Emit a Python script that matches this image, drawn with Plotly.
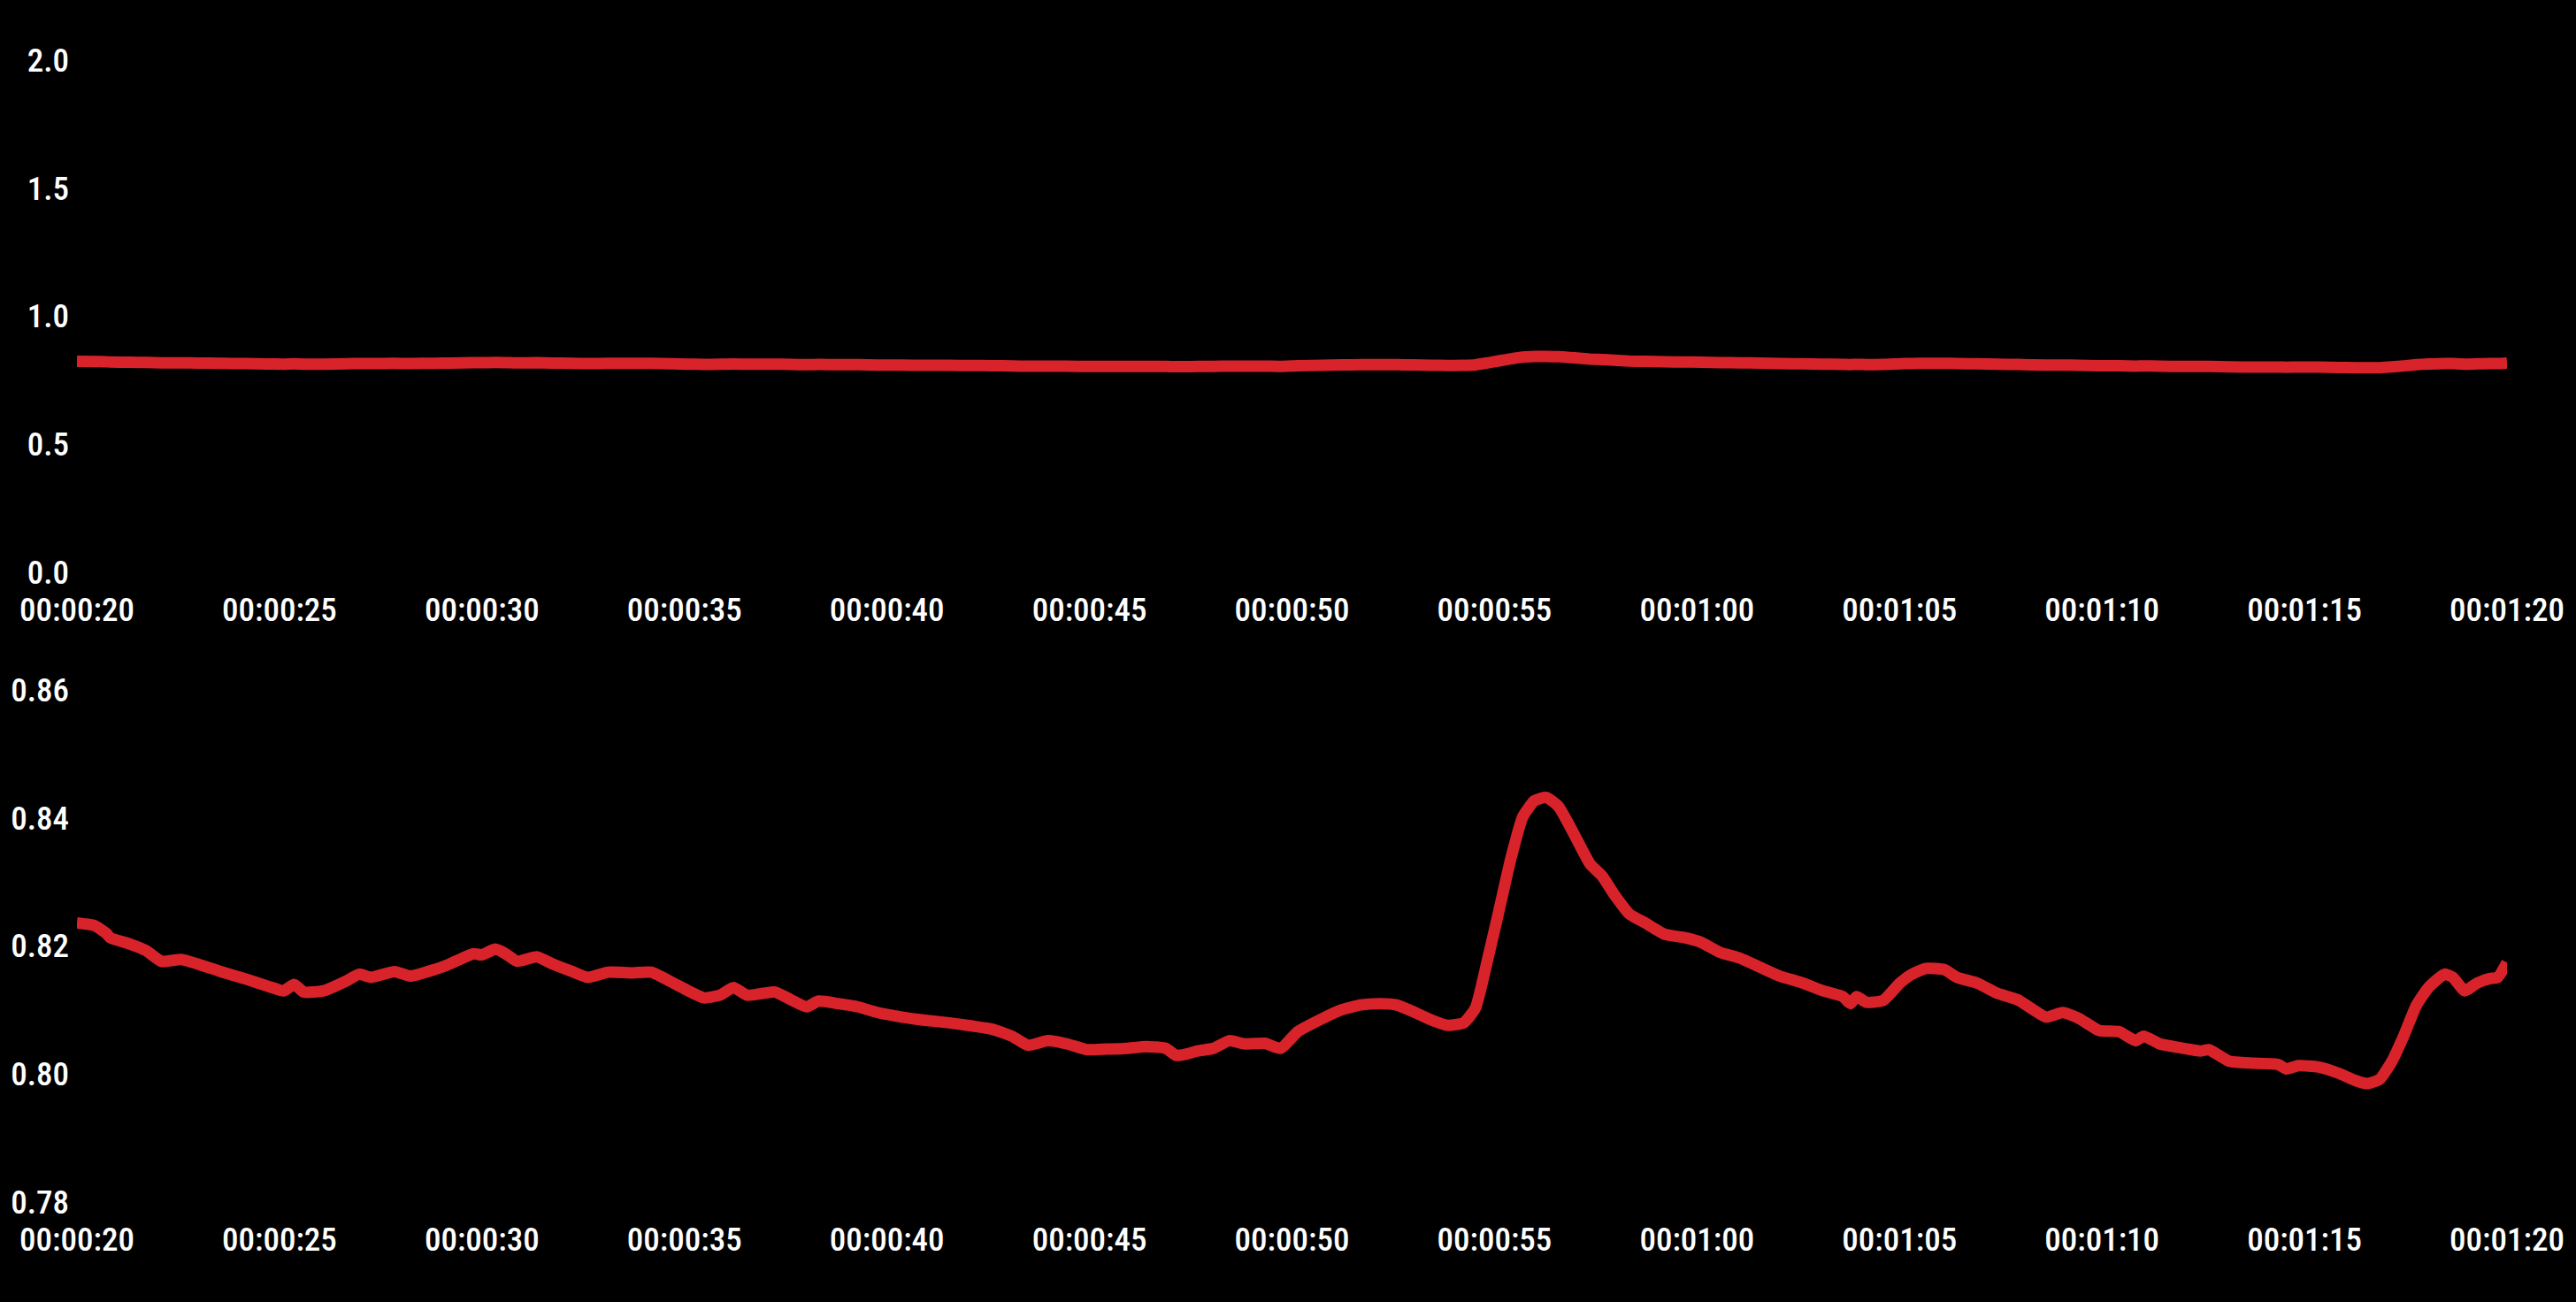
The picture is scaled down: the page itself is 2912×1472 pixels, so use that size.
import pandas as pd
import plotly.graph_objects as go
from plotly.subplots import make_subplots

# seconds since start of recording
seconds = [20.0, 20.43, 20.72, 20.82, 21.31, 21.70, 22.09, 22.58, 22.97, 23.55,
           24.14, 24.72, 25.11, 25.36, 25.60, 26.09, 26.67, 26.97, 27.26, 27.84,
           28.23, 28.82, 29.21, 29.79, 29.99, 30.33, 30.58, 30.87, 31.35, 31.74,
           32.23, 32.62, 33.11, 33.70, 34.18, 34.67, 35.09, 35.48, 35.87, 36.21,
           36.55, 36.94, 37.24, 37.63, 38.02, 38.31, 38.80, 39.28, 39.77, 40.36,
           40.94, 41.53, 42.11, 42.60, 43.09, 43.48, 43.97, 44.45, 44.94, 45.43,
           45.92, 46.40, 46.89, 47.14, 47.38, 47.67, 48.06, 48.45, 48.84, 49.33,
           49.72, 50.14, 50.73, 51.21, 51.70, 52.19, 52.58, 52.97, 53.46, 53.85,
           54.24, 54.53, 54.82, 55.11, 55.41, 55.70, 55.99, 56.28, 56.58, 56.97,
           57.36, 57.65, 57.94, 58.33, 58.72, 59.21, 59.70, 60.09, 60.57, 61.06,
           61.55, 62.04, 62.62, 63.11, 63.60, 63.79, 63.94, 64.18, 64.60, 65.01,
           65.31, 65.66, 66.11, 66.42, 66.92, 67.42, 67.92, 68.62, 69.03, 69.43,
           69.93, 70.43, 70.83, 71.03, 71.43, 71.94, 72.44, 72.64, 73.14, 73.74,
           74.35, 74.55, 74.85, 75.35, 75.85, 76.25, 76.55, 76.86, 77.16, 77.46,
           77.76, 78.06, 78.46, 78.66, 78.96, 79.26, 79.57, 79.77, 80.0]

values = [0.8236, 0.8232, 0.8220, 0.8213, 0.8203, 0.8193, 0.8176, 0.8179, 0.8172, 0.8160,
          0.8149, 0.8137, 0.8130, 0.8140, 0.8128, 0.8130, 0.8146, 0.8156, 0.8151, 0.8160,
          0.8153, 0.8163, 0.8172, 0.8188, 0.8186, 0.8195, 0.8188, 0.8176, 0.8183, 0.8172,
          0.8160, 0.8151, 0.8159, 0.8158, 0.8159, 0.8144, 0.8130, 0.8119, 0.8123, 0.8135,
          0.8123, 0.8126, 0.8128, 0.8116, 0.8105, 0.8114, 0.8110, 0.8105, 0.8096, 0.8089,
          0.8084, 0.8080, 0.8075, 0.8070, 0.8059, 0.8045, 0.8052, 0.8047, 0.8038, 0.8039,
          0.8040, 0.8043, 0.8040, 0.8029, 0.8031, 0.8036, 0.8040, 0.8052, 0.8047, 0.8048,
          0.8040, 0.8066, 0.8086, 0.8100, 0.8108, 0.8110, 0.8108, 0.8098, 0.8084, 0.8076,
          0.8080, 0.8103, 0.8176, 0.8255, 0.8338, 0.8402, 0.8427, 0.8432, 0.8418, 0.8374,
          0.8328, 0.8310, 0.8282, 0.8250, 0.8236, 0.8218, 0.8213, 0.8206, 0.8190, 0.8181,
          0.8167, 0.8153, 0.8142, 0.8130, 0.8121, 0.8110, 0.8121, 0.8112, 0.8115, 0.8142,
          0.8156, 0.8165, 0.8163, 0.8151, 0.8142, 0.8126, 0.8116, 0.8089, 0.8096, 0.8087,
          0.8068, 0.8066, 0.8052, 0.8059, 0.8047, 0.8041, 0.8036, 0.8038, 0.8020, 0.8017,
          0.8015, 0.8008, 0.8013, 0.8011, 0.8001, 0.7990, 0.7985, 0.7992, 0.8020, 0.8061,
          0.8107, 0.8135, 0.8156, 0.8151, 0.8130, 0.8142, 0.8149, 0.8151, 0.8174]

top_ticks = [0.0, 0.5, 1.0, 1.5, 2.0]
bottom_ticks = [0.78, 0.80, 0.82, 0.84, 0.86]
time_range = [20, 80]

times = pd.to_datetime(seconds, unit="s")
x_range = pd.to_datetime(time_range, unit="s")

font = dict(family="Roboto Condensed, Liberation Sans Narrow, Roboto, sans-serif",
            size=37, color="white", weight=500)
red = "#d9232b"

fig = make_subplots(rows=2, cols=1)

for row in (1, 2):
    fig.add_trace(go.Scatter(x=times, y=values, mode="lines",
                             line=dict(color=red, width=13, shape="spline", smoothing=0.5),
                             showlegend=False, hoverinfo="skip"), row=row, col=1)

xaxis_style = dict(range=x_range, type="date", tickformat="%H:%M:%S", dtick=5000,
                   tick0=x_range[0], showgrid=False, zeroline=False, showline=False,
                   ticks="", tickfont=font, ticklabelstandoff=17,
                   ticklabeloverflow="allow")
fig.update_xaxes(**xaxis_style, row=1, col=1)
fig.update_xaxes(**xaxis_style, row=2, col=1)

yaxis_style = dict(showgrid=False, zeroline=False, showline=False, ticks="",
                   tickfont=font, ticklabelstandoff=8)
fig.update_yaxes(range=[0, 2], tickvals=top_ticks, tickformat=".1f",
                 domain=[0.5515, 1.0], **yaxis_style, row=1, col=1)
fig.update_yaxes(range=[0.78, 0.86], tickvals=bottom_ticks, tickformat=".2f",
                 domain=[0.0, 0.4485], **yaxis_style, row=2, col=1)

fig.update_layout(width=2912, height=1472, paper_bgcolor="black", plot_bgcolor="black",
                  margin=dict(l=87, r=78, t=68, b=113), showlegend=False)

fig.write_html("out.html", config={"displayModeBar": False},
               post_script="document.body.style.margin='0';"
                           "document.body.style.background='black';")
